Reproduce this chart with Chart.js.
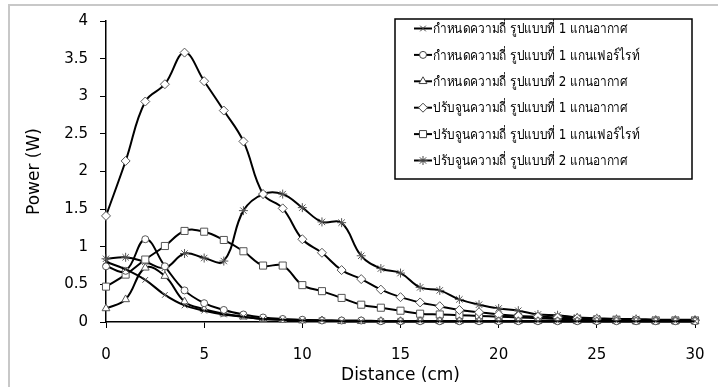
<!DOCTYPE html>
<html>
<head>
<meta charset="utf-8">
<script src="https://cdn.jsdelivr.net/npm/chart.js@4/dist/chart.umd.min.js"></script>
<style>
  html, body { margin: 0; padding: 0; background: #fff; }
  #frame { position: absolute; left: 8px; top: 4px; width: 800px; height: 500px;
           border-left: 2px solid #c8c8c8; border-top: 2px solid #c8c8c8; }
  #wrap { position: absolute; left: 0; top: 0; width: 718px; height: 387px; }
</style>
</head>
<body>
<div id="frame"></div>
<div id="wrap"><canvas id="grafico" width="718" height="387"></canvas></div>
<script>
const distancia = [0,1,2,3,4,5,6,7,8,9,10,11,12,13,14,15,16,17,18,19,20,21,22,23,24,25,26,27,28,29,30];

const nomes = [
  "กำหนดความถี่ รูปแบบที่ 1 แกนอากาศ",
  "กำหนดความถี่ รูปแบบที่ 1 แกนเฟอร์ไรท์",
  "กำหนดความถี่ รูปแบบที่ 2 แกนอากาศ",
  "ปรับจูนความถี่ รูปแบบที่ 1 แกนอากาศ",
  "ปรับจูนความถี่ รูปแบบที่ 1 แกนเฟอร์ไรท์",
  "ปรับจูนความถี่ รูปแบบที่ 2 แกนอากาศ"
];

const fixo1Ar = [0.80,0.70,0.56,0.36,0.22,0.15,0.10,0.07,0.04,0.03,0.02,0.02,0.01,0.01,0.01,0.01,0.01,0.01,0.01,0.01,0.01,0.01,0.01,0.01,0.01,0.01,0.01,0.01,0.01,0.01,0.01];
const fixo1Ferrite = [0.74,0.68,1.10,0.74,0.42,0.25,0.16,0.10,0.06,0.04,0.03,0.02,0.02,0.02,0.01,0.01,0.01,0.01,0.01,0.01,0.01,0.01,0.01,0.01,0.01,0.01,0.01,0.01,0.01,0.01,0.01];
const fixo2Ar = [0.18,0.30,0.72,0.61,0.27,0.17,0.11,0.07,0.04,0.03,0.02,0.02,0.01,0.01,0.01,0.01,0.01,0.01,0.01,0.01,0.01,0.01,0.01,0.01,0.01,0.01,0.01,0.01,0.01,0.01,0.01];
const ajuste1Ar = [1.41,2.14,2.93,3.16,3.58,3.20,2.81,2.40,1.70,1.51,1.10,0.92,0.69,0.57,0.43,0.33,0.26,0.21,0.16,0.13,0.10,0.08,0.07,0.06,0.05,0.04,0.03,0.03,0.02,0.02,0.02];
const ajuste1Ferrite = [0.47,0.63,0.83,1.01,1.21,1.20,1.09,0.94,0.75,0.75,0.49,0.41,0.32,0.23,0.19,0.15,0.11,0.10,0.09,0.08,0.07,0.06,0.05,0.04,0.04,0.03,0.03,0.02,0.02,0.02,0.02];
const ajuste2Ar = [0.84,0.86,0.80,0.72,0.91,0.85,0.81,1.48,1.70,1.70,1.52,1.33,1.32,0.88,0.71,0.65,0.46,0.42,0.30,0.23,0.18,0.15,0.10,0.09,0.06,0.05,0.04,0.04,0.03,0.03,0.03];

const series = [fixo1Ar, fixo1Ferrite, fixo2Ar, ajuste1Ar, ajuste1Ferrite, ajuste2Ar];
const marcadores = ['crossRot', 'circle', 'triangle', 'rectRot', 'rect', 'star'];
const raios = [4, 3.5, 4.5, 4.5, 5, 4.5];

const yTicks = [0, 0.5, 1, 1.5, 2, 2.5, 3, 3.5, 4];
const xTicks = [0, 5, 10, 15, 20, 25, 30];

const fonte = "'DejaVu Sans', sans-serif";

const datasets = series.map((vals, i) => ({
  label: nomes[i],
  data: vals.map((v, k) => ({ x: distancia[k], y: v })),
  borderColor: '#000',
  borderWidth: 2,
  tension: 0.4,
  pointStyle: marcadores[i],
  pointRadius: raios[i],
  pointBorderColor: '#555',
  pointBorderWidth: 1,
  pointBackgroundColor: '#fff',
  clip: 8
}));

// legenda desenhada na mão (linha + marcador)
const legendaCaixa = {
  id: 'legendaCaixa',
  afterDraw(chart) {
    const ctx = chart.ctx;
    const x0 = 395, y0 = 19, w = 297, h = 160;
    ctx.save();
    ctx.fillStyle = '#fff';
    ctx.fillRect(x0, y0, w, h);
    ctx.strokeStyle = '#000';
    ctx.lineWidth = 1.5;
    ctx.strokeRect(x0, y0, w, h);
    chart.data.datasets.forEach((ds, i) => {
      const y = 28.5 + i * 26.4;
      ctx.strokeStyle = '#000';
      ctx.lineWidth = 2;
      ctx.beginPath();
      ctx.moveTo(414, y);
      ctx.lineTo(432, y);
      ctx.stroke();
      ctx.fillStyle = '#fff';
      ctx.strokeStyle = '#444';
      ctx.lineWidth = 1;
      Chart.helpers.drawPoint(ctx, { pointStyle: ds.pointStyle, radius: ds.pointRadius, borderWidth: 1, rotation: 0 }, 423, y);
      ctx.fillStyle = '#000';
      ctx.font = "14px " + fonte;
      ctx.textBaseline = 'middle';
      ctx.textAlign = 'left';
      const largura = ctx.measureText(ds.label).width * 0.85;
      ctx.fillText(ds.label, 433, y + 1, largura);
    });
    ctx.restore();
  }
};

const ctx = document.getElementById("grafico");

new Chart(ctx, {
  type: 'line',
  data: { datasets: datasets },
  plugins: [legendaCaixa],
  options: {
    responsive: false,
    animation: false,
    layout: { padding: { left: 0, top: 21, right: 23, bottom: 0 } },
    plugins: { legend: { display: false }, tooltip: { enabled: false } },
    scales: {
      x: {
        type: 'linear',
        min: 0, max: 30,
        afterFit: s => { s.height = 65; },
        afterBuildTicks: s => { s.ticks = xTicks.map(v => ({ value: v })); },
        grid: { display: true, drawOnChartArea: false, drawTicks: true, tickLength: 6, color: '#000' },
        border: { display: true, color: '#000', width: 1.5 },
        ticks: { color: '#000', font: { family: fonte, size: 15, lineHeight: 2 }, padding: 12, maxRotation: 0, callback: v => String(v) },
        title: { display: true, text: 'Distance (cm)', color: '#000', font: { family: fonte, size: 17 }, padding: { top: 0, bottom: 1 } }
      },
      y: {
        min: 0, max: 4,
        afterFit: s => { s.width = 106; },
        afterBuildTicks: s => { s.ticks = yTicks.map(v => ({ value: v })); },
        grid: { display: true, drawOnChartArea: false, drawTicks: true, tickLength: 6, color: '#000' },
        border: { display: true, color: '#000', width: 1.5 },
        ticks: { color: '#000', font: { family: fonte, size: 15 }, padding: 12, callback: v => String(v) },
        title: { display: true, text: 'Power (W)', color: '#000', font: { family: fonte, size: 17 }, padding: { top: 24, bottom: 0 } }
      }
    }
  }
});
</script>
</body>
</html>
